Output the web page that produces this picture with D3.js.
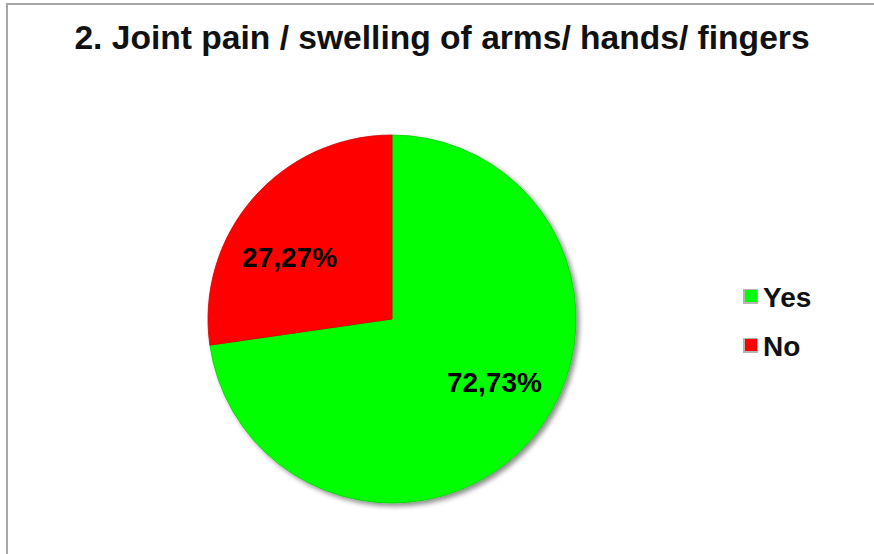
<!DOCTYPE html>
<html>
<head>
<meta charset="utf-8">
<script src="https://cdn.jsdelivr.net/npm/d3@7"></script>
<style>
  body { margin: 0; background: #fff; }
  svg { display: block; }
</style>
</head>
<body>
<div id="root"></div>
<script>
const width = 874;
const height = 554;

// data
const categories = ['Yes', 'No'];
const values = [72.73, 27.27];
const labels = ['72,73%', '27,27%'];
const colors = ['#00ff00', '#ff0000'];
const title = '2. Joint pain / swelling of arms/ hands/ fingers';

const cx = 392, cy = 319, radius = 184;
const labelRadius = 120;
const labelShift = 9.5 * Math.PI / 180;

const svg = d3.select('#root')
	.append('svg')
		.attr('width', width)
		.attr('height', height);

// soft shadow like the office chart
const defs = svg.append('defs');
const shadow = defs.append('filter')
	.attr('id', 'shadow')
	.attr('x', '-10%').attr('y', '-10%')
	.attr('width', '130%').attr('height', '130%');
shadow.append('feGaussianBlur').attr('in', 'SourceAlpha').attr('stdDeviation', 2.5);
shadow.append('feOffset').attr('dx', 3).attr('dy', 3).attr('result', 'blur');
shadow.append('feComponentTransfer')
	.append('feFuncA').attr('type', 'linear').attr('slope', 0.45);
const merge = shadow.append('feMerge');
merge.append('feMergeNode');
merge.append('feMergeNode').attr('in', 'SourceGraphic');

// frame
svg.append('rect')
	.attr('x', 7)
	.attr('y', 4)
	.attr('width', width + 20)
	.attr('height', height + 20)
	.style('fill', '#fff')
	.style('stroke', '#a6a6a6')
	.style('stroke-width', 2);

svg.append('text')
	.attr('x', 442)
	.attr('y', 49)
	.style('text-anchor', 'middle')
	.style('font-family', 'Liberation Sans, Arial, sans-serif')
	.style('font-weight', 'bold')
	.style('font-size', '33.6px')
	.style('fill', '#111')
	.text(title);

const data = categories.map((c, i) => ({ name: c, value: values[i], label: labels[i], color: colors[i] }));

const pie = d3.pie().sort(null).value(d => d.value);
const arc = d3.arc().innerRadius(0).outerRadius(radius);
const arcs = pie(data);

const g = svg.append('g')
	.attr('transform', `translate(${cx}, ${cy})`);

g.append('g')
	.style('filter', 'url(#shadow)')
	.selectAll('path')
	.data(arcs).enter()
	.append('path')
		.attr('d', arc)
		.style('fill', d => d.data.color)
		.style('stroke', d => d3.color(d.data.color).darker(0.6))
		.style('stroke-width', 0.8);

g.selectAll('.slice-label')
	.data(arcs).enter()
	.append('text')
		.attr('class', 'slice-label')
		.attr('transform', d => {
			const a = (d.startAngle + d.endAngle) / 2 - labelShift;
			return `translate(${labelRadius * Math.sin(a)}, ${-labelRadius * Math.cos(a)})`;
		})
		.attr('dy', '0.36em')
		.style('text-anchor', 'middle')
		.style('font-family', 'Liberation Sans, Arial, sans-serif')
		.style('font-weight', 'bold')
		.style('font-size', '28px')
		.style('fill', '#000')
		.text(d => d.data.label);

// legend
const legend = svg.append('g')
	.attr('transform', 'translate(743, 297)');

const items = legend.selectAll('.item')
	.data(data).enter()
	.append('g')
		.attr('class', 'item')
		.attr('transform', (d, i) => `translate(0, ${i * 49})`);

items.append('rect')
	.attr('x', 0).attr('y', -8)
	.attr('width', 15).attr('height', 15)
	.style('fill', '#b4b4b4');

items.append('rect')
	.attr('x', 2).attr('y', -7)
	.attr('width', 12).attr('height', 12)
	.style('fill', d => d.color);

items.append('text')
	.attr('x', 20)
	.attr('y', 0)
	.attr('dy', '0.36em')
	.style('font-family', 'Liberation Sans, Arial, sans-serif')
	.style('font-weight', 'bold')
	.style('font-size', '28px')
	.style('fill', '#111')
	.text(d => d.name);
</script>
</body>
</html>
